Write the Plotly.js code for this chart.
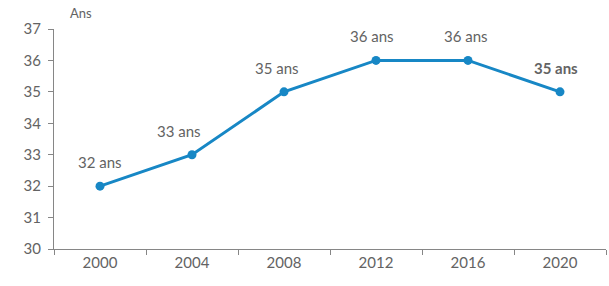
<!DOCTYPE html>
<html><head><meta charset="utf-8">
<script src="https://cdn.plot.ly/plotly-3.0.1.min.js"></script>
<style>body{margin:0;background:#fff}#c{width:609px;height:286px}</style>
</head><body><div id="c"></div>
<script>
const years = ['2000','2004','2008','2012','2016','2020'];
const ages = [32, 33, 35, 36, 36, 35];
const labels = ['32 ans','33 ans','35 ans','36 ans','36 ans','<b>35 ans</b>'];
const yTicks = [30,31,32,33,34,35,36,37];
const labelXShift = [0, -13, -7, -4, -2, -4];

const trace = {
  x: years, y: ages, type: 'scatter', mode: 'lines+markers',
  line: {color: '#1787c5', width: 3},
  marker: {color: '#1787c5', size: 9},
  cliponaxis: false, hoverinfo: 'none'
};
const anns = years.map((yr, i) => ({
  x: i, y: ages[i], xref: 'x', yref: 'y', text: labels[i], showarrow: false,
  yshift: 24, xshift: labelXShift[i],
  font: {family: 'Lato, sans-serif', size: 15, color: '#636363'}
}));
anns.push({text: 'Ans', xref: 'paper', yref: 'paper', x: 0.025, y: 1, yshift: 6,
  xanchor: 'left', yanchor: 'bottom', showarrow: false,
  font: {family: 'Lato, sans-serif', size: 13, color: '#636363'}});

const layout = {
  width: 609, height: 286,
  margin: {l: 54, r: 3, t: 29, b: 37},
  paper_bgcolor: '#fff', plot_bgcolor: '#fff',
  showlegend: false,
  font: {family: 'Lato, sans-serif', size: 15, color: '#636363'},
  xaxis: {type: 'category', range: [-0.5, 5.5], tickson: 'boundaries', ticks: 'outside', ticklen: 5,
    tickcolor: '#868686', showline: true, linecolor: '#868686', linewidth: 1,
    showgrid: false, zeroline: false, fixedrange: true},
  yaxis: {range: [30, 37], tickvals: yTicks, ticks: 'outside', ticklen: 5,
    tickcolor: '#868686', showline: true, linecolor: '#868686', linewidth: 1,
    showgrid: false, zeroline: false, ticklabelstandoff: 4},
  annotations: anns
};
Plotly.newPlot('c', [trace], layout, {staticPlot: true});
</script></body></html>
